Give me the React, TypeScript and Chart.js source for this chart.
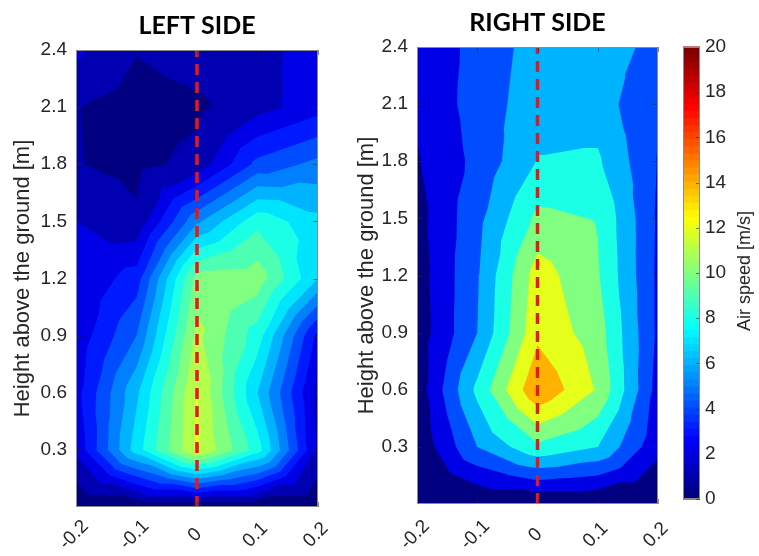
import React, { useEffect, useRef } from 'react';
import { Chart, registerables } from 'chart.js';

Chart.register(...registerables);

// ---------- data ----------
const X_POSITIONS = [-0.2, -0.1, 0, 0.1, 0.2];
const HEIGHTS = [0, 0.3, 0.6, 0.9, 1.2, 1.5, 1.8, 2.1, 2.4];

// air speed [m/s], one row per height (bottom -> top), one column per x position
const LEFT_SPEED = [
  [0, 0, 0, 0, 0],
  [2.2, 7.5, 12.2, 8.5, 1.8],
  [2.6, 6.8, 12.1, 7.0, 1.6],
  [2.3, 5.0, 11.3, 8.5, 2.7],
  [2.1, 3.5, 10.4, 10.6, 7.0],
  [2.0, 1.2, 5.8, 8.7, 7.3],
  [1.05, 0.7, 1.3, 4.3, 5.3],
  [1.03, 0.6, 0.8, 1.6, 2.6],
  [2.2, 1.05, 1.5, 1.7, 2.4],
];

const RIGHT_SPEED = [
  [0, 0, 0, 0, 0],
  [0.3, 6.0, 9.6, 8.0, 2.5],
  [0.75, 8.5, 15.8, 11.8, 3.2],
  [0.8, 6.0, 13.5, 11.0, 3.6],
  [1.0, 5.8, 13.0, 10.2, 3.6],
  [1.25, 5.4, 10.5, 9.9, 3.7],
  [1.8, 4.55, 8.1, 8.3, 3.9],
  [2.4, 4.8, 7.2, 7.0, 4.1],
  [2.5, 4.6, 6.9, 7.2, 5.3],
];

const LEFT_LEVELS = [0, 1, 2, 3, 4, 5, 6, 7, 8, 9, 10, 11, 12, 13, 14, 15, 16, 17, 18, 19, 20];
const RIGHT_LEVELS = [0, 2, 4, 6, 8, 10, 12, 14, 16, 18, 20];

const Y_TICKS = [0.3, 0.6, 0.9, 1.2, 1.5, 1.8, 2.1, 2.4];
const X_TICKS = [-0.2, -0.1, 0, 0.1, 0.2];
const X_TICK_LABELS = ['-0.2', '-0.1', '0', '0.1', '0.2'];
const CB_TICKS = [0, 2, 4, 6, 8, 10, 12, 14, 16, 18, 20];
const CB_MAX = 20;
const TITLES = ['LEFT SIDE', 'RIGHT SIDE'];
const Y_TITLE = 'Height above the ground [m]';
const CB_TITLE = 'Air speed [m/s]';

// ---------- helpers ----------
const SANS = '"Liberation Sans", Arial, Helvetica, sans-serif';
const TEXT = '#262626';

function jet(t: number) {
  const c = (v: number) => Math.max(0, Math.min(1, v));
  const r = c(1.5 - Math.abs(4 * t - 3));
  const g = c(1.5 - Math.abs(4 * t - 2));
  const b = c(1.5 - Math.abs(4 * t - 1));
  return `rgb(${Math.round(r * 255)},${Math.round(g * 255)},${Math.round(b * 255)})`;
}

type P = { x: number; y: number; v: number };

function clipAbove(poly: P[], L: number): P[] {
  const out: P[] = [];
  for (let i = 0; i < poly.length; i++) {
    const a = poly[i];
    const b = poly[(i + 1) % poly.length];
    const ain = a.v >= L;
    const bin = b.v >= L;
    if (ain) out.push(a);
    if (ain !== bin) {
      const t = (L - a.v) / (b.v - a.v);
      out.push({ x: a.x + t * (b.x - a.x), y: a.y + t * (b.y - a.y), v: L });
    }
  }
  return out;
}

function buildTriangles(grid: number[][]): P[][] {
  const tris: P[][] = [];
  for (let j = 0; j < HEIGHTS.length - 1; j++) {
    for (let i = 0; i < X_POSITIONS.length - 1; i++) {
      const p: P[] = [
        { x: X_POSITIONS[i], y: HEIGHTS[j], v: grid[j][i] },
        { x: X_POSITIONS[i + 1], y: HEIGHTS[j], v: grid[j][i + 1] },
        { x: X_POSITIONS[i + 1], y: HEIGHTS[j + 1], v: grid[j + 1][i + 1] },
        { x: X_POSITIONS[i], y: HEIGHTS[j + 1], v: grid[j + 1][i] },
      ];
      const c: P = {
        x: (p[0].x + p[1].x) / 2,
        y: (p[0].y + p[3].y) / 2,
        v: (p[0].v + p[1].v + p[2].v + p[3].v) / 4,
      };
      for (let k = 0; k < 4; k++) tris.push([p[k], p[(k + 1) % 4], c]);
    }
  }
  return tris;
}

function makeContourPlugin(grid: number[][], levels: number[]) {
  const tris = buildTriangles(grid);
  return {
    id: 'contourFill',
    beforeDatasetsDraw(chart: any) {
      const { ctx, chartArea: a, scales } = chart;
      const xs = scales.x;
      const ys = scales.y;
      ctx.save();
      ctx.beginPath();
      ctx.rect(a.left, a.top, a.right - a.left, a.bottom - a.top);
      ctx.clip();
      for (let k = 0; k < levels.length - 1; k++) {
        const L = levels[k];
        ctx.beginPath();
        for (const tri of tris) {
          const poly = k === 0 ? tri : clipAbove(tri, L);
          if (poly.length < 3) continue;
          poly.forEach((pt, idx) => {
            const px = xs.getPixelForValue(pt.x);
            const py = ys.getPixelForValue(pt.y);
            if (idx === 0) ctx.moveTo(px, py);
            else ctx.lineTo(px, py);
          });
          ctx.closePath();
        }
        ctx.fillStyle = jet(L / CB_MAX);
        ctx.fill();
      }
      ctx.restore();
    },
    afterDatasetsDraw(chart: any) {
      const { ctx, chartArea: a, scales } = chart;
      const xs = scales.x;
      const ys = scales.y;
      ctx.save();
      ctx.strokeStyle = 'rgba(40,40,40,0.55)';
      ctx.lineWidth = 1;
      ctx.beginPath();
      Y_TICKS.forEach((v) => {
        const py = Math.round(ys.getPixelForValue(v)) + 0.5;
        ctx.moveTo(a.left, py);
        ctx.lineTo(a.left + 5, py);
        ctx.moveTo(a.right, py);
        ctx.lineTo(a.right - 5, py);
      });
      X_TICKS.forEach((v) => {
        const px = Math.round(xs.getPixelForValue(v)) + 0.5;
        ctx.moveTo(px, a.bottom);
        ctx.lineTo(px, a.bottom - 5);
        ctx.moveTo(px, a.top);
        ctx.lineTo(px, a.top + 5);
      });
      ctx.stroke();
      ctx.strokeStyle = '#8a8a8a';
      ctx.strokeRect(a.left + 0.5, a.top + 0.5, a.right - a.left - 1, a.bottom - a.top - 1);
      ctx.restore();
    },
    afterDraw(chart: any) {
      const { ctx, scales } = chart;
      const xs = scales.x;
      ctx.save();
      ctx.fillStyle = TEXT;
      ctx.font = `19px ${SANS}`;
      ctx.textAlign = 'center';
      ctx.textBaseline = 'middle';
      X_TICKS.forEach((v, i) => {
        const px = xs.getPixelForValue(v) - 2;
        ctx.save();
        ctx.translate(px, 535);
        ctx.rotate(-Math.PI / 4);
        ctx.fillText(X_TICK_LABELS[i], 0, 0);
        ctx.restore();
      });
      ctx.restore();
    },
  };
}

type Lay = { padRight: number; padBottom: number; titleTop: number; titleBottom: number; yWidth: number; yTitlePad: number };

function panelConfig(grid: number[][], levels: number[], title: string, lay: Lay): any {
  return {
    type: 'scatter',
    data: {
      datasets: [
        {
          data: [
            { x: 0, y: 0 },
            { x: 0, y: 2.4 },
          ],
          showLine: true,
          borderColor: '#e3191c',
          borderWidth: 3.5,
          borderDash: [11, 7],
          pointRadius: 0,
          fill: false,
        },
      ],
    },
    options: {
      responsive: false,
      animation: false,
      events: [],
      layout: { padding: { left: 0, right: lay.padRight, top: 0, bottom: lay.padBottom } },
      plugins: {
        legend: { display: false },
        tooltip: { enabled: false },
        title: {
          display: true,
          text: title,
          fullSize: false,
          color: '#000',
          font: { family: 'Lato, "Open Sans", sans-serif', weight: 'bold', size: 25, lineHeight: 1.2 },
          padding: { top: lay.titleTop, bottom: lay.titleBottom },
        },
      },
      scales: {
        x: { type: 'linear', min: -0.2, max: 0.2, display: false },
        y: {
          type: 'linear',
          min: 0,
          max: 2.4,
          afterFit: (s: any) => {
            s.width = lay.yWidth;
          },
          afterBuildTicks: (s: any) => {
            s.ticks = Y_TICKS.map((v) => ({ value: v }));
          },
          grid: { display: false, drawTicks: false },
          border: { display: false },
          ticks: {
            autoSkip: false,
            padding: 9,
            color: TEXT,
            font: { family: SANS, size: 19 },
            callback: (v: any) => Number(v).toFixed(1),
          },
          title: {
            display: true,
            text: Y_TITLE,
            color: TEXT,
            font: { family: SANS, size: 22, lineHeight: 1.2 },
            padding: { top: lay.yTitlePad, bottom: 0 },
          },
        },
      },
    },
    plugins: [makeContourPlugin(grid, levels)],
  };
}

const colorbarPlugin = {
  id: 'colorbar',
  afterDraw(chart: any) {
    const { ctx, chartArea: a, scales } = chart;
    const ys = scales.y;
    const n = 64;
    ctx.save();
    for (let i = 0; i < n; i++) {
      const y0 = ys.getPixelForValue((i / n) * CB_MAX);
      const y1 = ys.getPixelForValue(((i + 1) / n) * CB_MAX);
      ctx.fillStyle = jet(i / (n - 1));
      ctx.fillRect(a.left, y1 - 0.5, a.right - a.left, y0 - y1 + 1);
    }
    ctx.strokeStyle = 'rgba(40,40,40,0.6)';
    ctx.lineWidth = 1;
    ctx.beginPath();
    CB_TICKS.forEach((v) => {
      const py = Math.round(ys.getPixelForValue(v)) + 0.5;
      ctx.moveTo(a.right, py);
      ctx.lineTo(a.right - 4, py);
    });
    ctx.stroke();
    ctx.strokeStyle = '#8a8a8a';
    ctx.strokeRect(a.left + 0.5, a.top + 0.5, a.right - a.left - 1, a.bottom - a.top - 1);
    ctx.fillStyle = TEXT;
    ctx.font = `18px ${SANS}`;
    ctx.textAlign = 'center';
    ctx.textBaseline = 'middle';
    ctx.translate(75, 271);
    ctx.rotate(-Math.PI / 2);
    ctx.fillText(CB_TITLE, 0, 0);
    ctx.restore();
  },
};

function colorbarConfig(): any {
  return {
    type: 'scatter',
    data: { datasets: [] },
    options: {
      responsive: false,
      animation: false,
      events: [],
      layout: { padding: { left: 13, right: 0, top: 47, bottom: 57 } },
      plugins: { legend: { display: false }, tooltip: { enabled: false } },
      scales: {
        x: { type: 'linear', min: 0, max: 1, display: false },
        y: {
          type: 'linear',
          position: 'right',
          min: 0,
          max: CB_MAX,
          afterFit: (s: any) => {
            s.width = 59;
          },
          afterBuildTicks: (s: any) => {
            s.ticks = CB_TICKS.map((v) => ({ value: v }));
          },
          grid: { display: false, drawTicks: false },
          border: { display: false },
          ticks: { autoSkip: false, padding: 5, color: TEXT, font: { family: SANS, size: 19 } },
        },
      },
    },
    plugins: [colorbarPlugin],
  };
}

export default function App() {
  const leftRef = useRef<HTMLCanvasElement>(null);
  const rightRef = useRef<HTMLCanvasElement>(null);
  const cbRef = useRef<HTMLCanvasElement>(null);

  useEffect(() => {
    const charts = [
      new Chart(
        leftRef.current as HTMLCanvasElement,
        panelConfig(LEFT_SPEED, LEFT_LEVELS, TITLES[0], {
          padRight: 22,
          padBottom: 49,
          titleTop: 11,
          titleBottom: 9,
          yWidth: 76,
          yTitlePad: 9.5,
        })
      ),
      new Chart(
        rightRef.current as HTMLCanvasElement,
        panelConfig(RIGHT_SPEED, RIGHT_LEVELS, TITLES[1], {
          padRight: 12,
          padBottom: 52,
          titleTop: 7.5,
          titleBottom: 9.5,
          yWidth: 77,
          yTitlePad: 14,
        })
      ),
      new Chart(cbRef.current as HTMLCanvasElement, colorbarConfig()),
    ];
    return () => charts.forEach((c) => c.destroy());
  }, []);

  return (
    <div style={{ position: 'fixed', left: 0, top: 0, width: 759, height: 556, background: '#fff', overflow: 'hidden' }}>
      <canvas ref={leftRef} width={340} height={556} style={{ position: 'absolute', left: 0, top: 0, width: 340, height: 556 }} />
      <canvas ref={rightRef} width={330} height={556} style={{ position: 'absolute', left: 340, top: 0, width: 330, height: 556 }} />
      <canvas ref={cbRef} width={89} height={556} style={{ position: 'absolute', left: 670, top: 0, width: 89, height: 556 }} />
    </div>
  );
}
